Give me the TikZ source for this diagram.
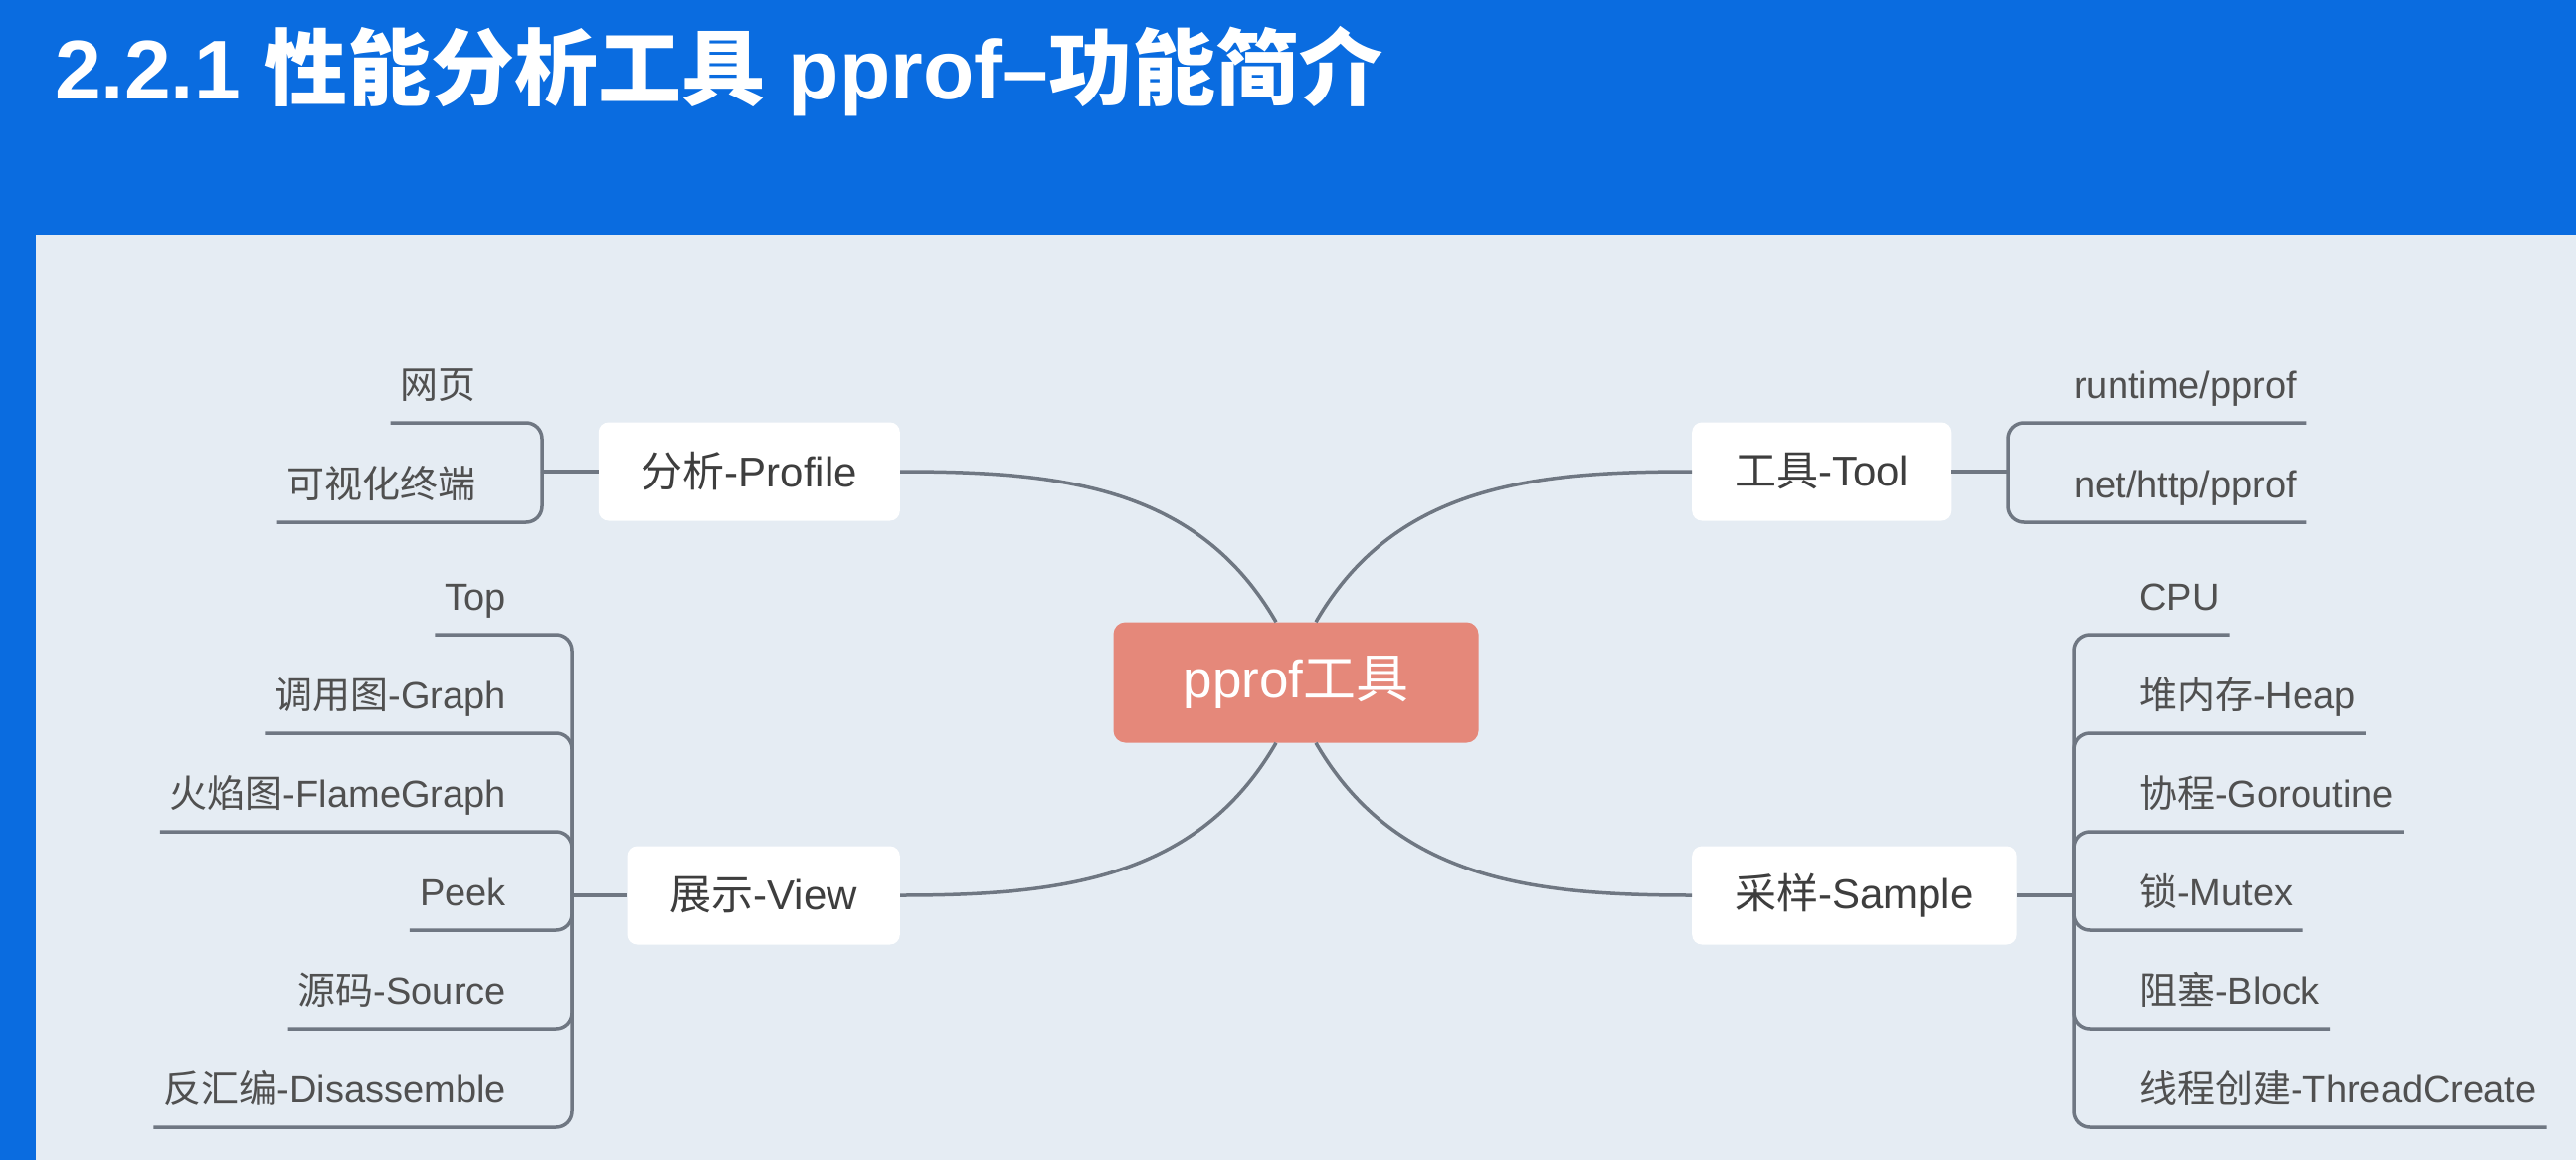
\documentclass[tikz,border=0pt]{standalone}
\usepackage{fontspec}
\setmainfont{Liberation Sans}
\newfontfamily\cjkf{Noto Sans CJK SC}
\newcommand\zh[1]{{\cjkf #1}}
\definecolor{headerblue}{HTML}{0A6CE0}
\definecolor{panelbg}{HTML}{E5ECF3}
\definecolor{linkgrey}{HTML}{6F7782}
\definecolor{labelgrey}{HTML}{3E3E3E}
\definecolor{leafgrey}{HTML}{505050}
\definecolor{rootfill}{HTML}{E5887A}
\begin{document}
\begin{tikzpicture}[x=1pt,y=-1pt,
  link/.style={draw=linkgrey, line width=3.5pt, rounded corners=16pt},
  curve/.style={draw=linkgrey, line width=3.5pt},
  topic/.style={fill=white, rounded corners=10pt, minimum height=99pt,
    inner xsep=43pt, inner ysep=0pt, text=labelgrey, font=\fontsize{42}{50}\selectfont},
  root/.style={fill=rootfill, rounded corners=12pt, minimum height=121pt,
    minimum width=367pt, text=white, font=\fontsize{53}{60}\selectfont},
  leafL/.style={anchor=base east, inner xsep=10pt, text=leafgrey, font=\fontsize{38}{46}\selectfont},
  leafR/.style={anchor=base west, inner xsep=10pt, text=leafgrey, font=\fontsize{38}{46}\selectfont},
]
\useasboundingbox (0,0) rectangle (2590,1166);
% background: header band and content panel
\fill[headerblue] (0,0) rectangle (2590,1166);
\fill[panelbg] (36,236) rectangle (2590,1166);

% title
\node[anchor=base west, inner sep=0pt, text=white, font=\fontsize{84}{90}\selectfont\bfseries]
  (title) at (55,100) {2.2.1 \zh{性能分析工具} pprof–\zh{功能简介}};

% central topic and main branches
\node[root] (root) at (1303,686) {pprof\zh{工具}};
\node[topic, anchor=east] (prof) at (905,474) {\zh{分析}-Profile};
\node[topic, anchor=east] (view) at (905,900) {\zh{展示}-View};
\node[topic, anchor=west] (tool) at (1701,474) {\zh{工具}-Tool};
\node[topic, anchor=west] (samp) at (1701,900) {\zh{采样}-Sample};

\draw[curve] (prof.east) to[out=0,in=120] ([xshift=-20pt]root.north);
\draw[curve] (view.east) to[out=0,in=-120] ([xshift=-20pt]root.south);
\draw[curve] (tool.west) to[out=180,in=60] ([xshift=20pt]root.north);
\draw[curve] (samp.west) to[out=180,in=-60] ([xshift=20pt]root.south);

% bracket junctions
\coordinate (pb) at (545,474);
\coordinate (vb) at (575,900);
\coordinate (tb) at (2019,474);
\coordinate (sb) at (2085,900);

% leaves: profile
\node[leafL] (p1) at (489,400) {\zh{网页}};
\node[leafL] (p2) at (489,500) {\zh{可视化终端}};
% leaves: view
\node[leafL] (v1) at (519,613) {Top};
\node[leafL] (v2) at (519,712) {\zh{调用图}-Graph};
\node[leafL] (v3) at (519,811) {\zh{火焰图}-FlameGraph};
\node[leafL] (v4) at (519,910) {Peek};
\node[leafL] (v5) at (519,1009) {\zh{源码}-Source};
\node[leafL] (v6) at (519,1108) {\zh{反汇编}-Disassemble};
% leaves: tool
\node[leafR] (t1) at (2075,400) {runtime/pprof};
\node[leafR] (t2) at (2075,500) {net/http/pprof};
% leaves: sample
\node[leafR] (s1) at (2141,613) {CPU};
\node[leafR] (s2) at (2141,712) {\zh{堆内存}-Heap};
\node[leafR] (s3) at (2141,811) {\zh{协程}-Goroutine};
\node[leafR] (s4) at (2141,910) {\zh{锁}-Mutex};
\node[leafR] (s5) at (2141,1009) {\zh{阻塞}-Block};
\node[leafR] (s6) at (2141,1108) {\zh{线程创建}-ThreadCreate};

% underlines joined into brackets
\foreach \n in {p1,p2} \draw[link] ([yshift=-25pt]\n.base west) -| (pb);
\foreach \n in {v1,v2,v3,v4,v5,v6} \draw[link] ([yshift=-25pt]\n.base west) -| (vb);
\foreach \n in {t1,t2} \draw[link] ([yshift=-25pt]\n.base east) -| (tb);
\foreach \n in {s1,s2,s3,s4,s5,s6} \draw[link] ([yshift=-25pt]\n.base east) -| (sb);

% stubs from brackets to topics
\draw[link] (pb) -- (prof.west);
\draw[link] (vb) -- (view.west);
\draw[link] (tb) -- (tool.east);
\draw[link] (sb) -- (samp.east);
\end{tikzpicture}
\end{document}
